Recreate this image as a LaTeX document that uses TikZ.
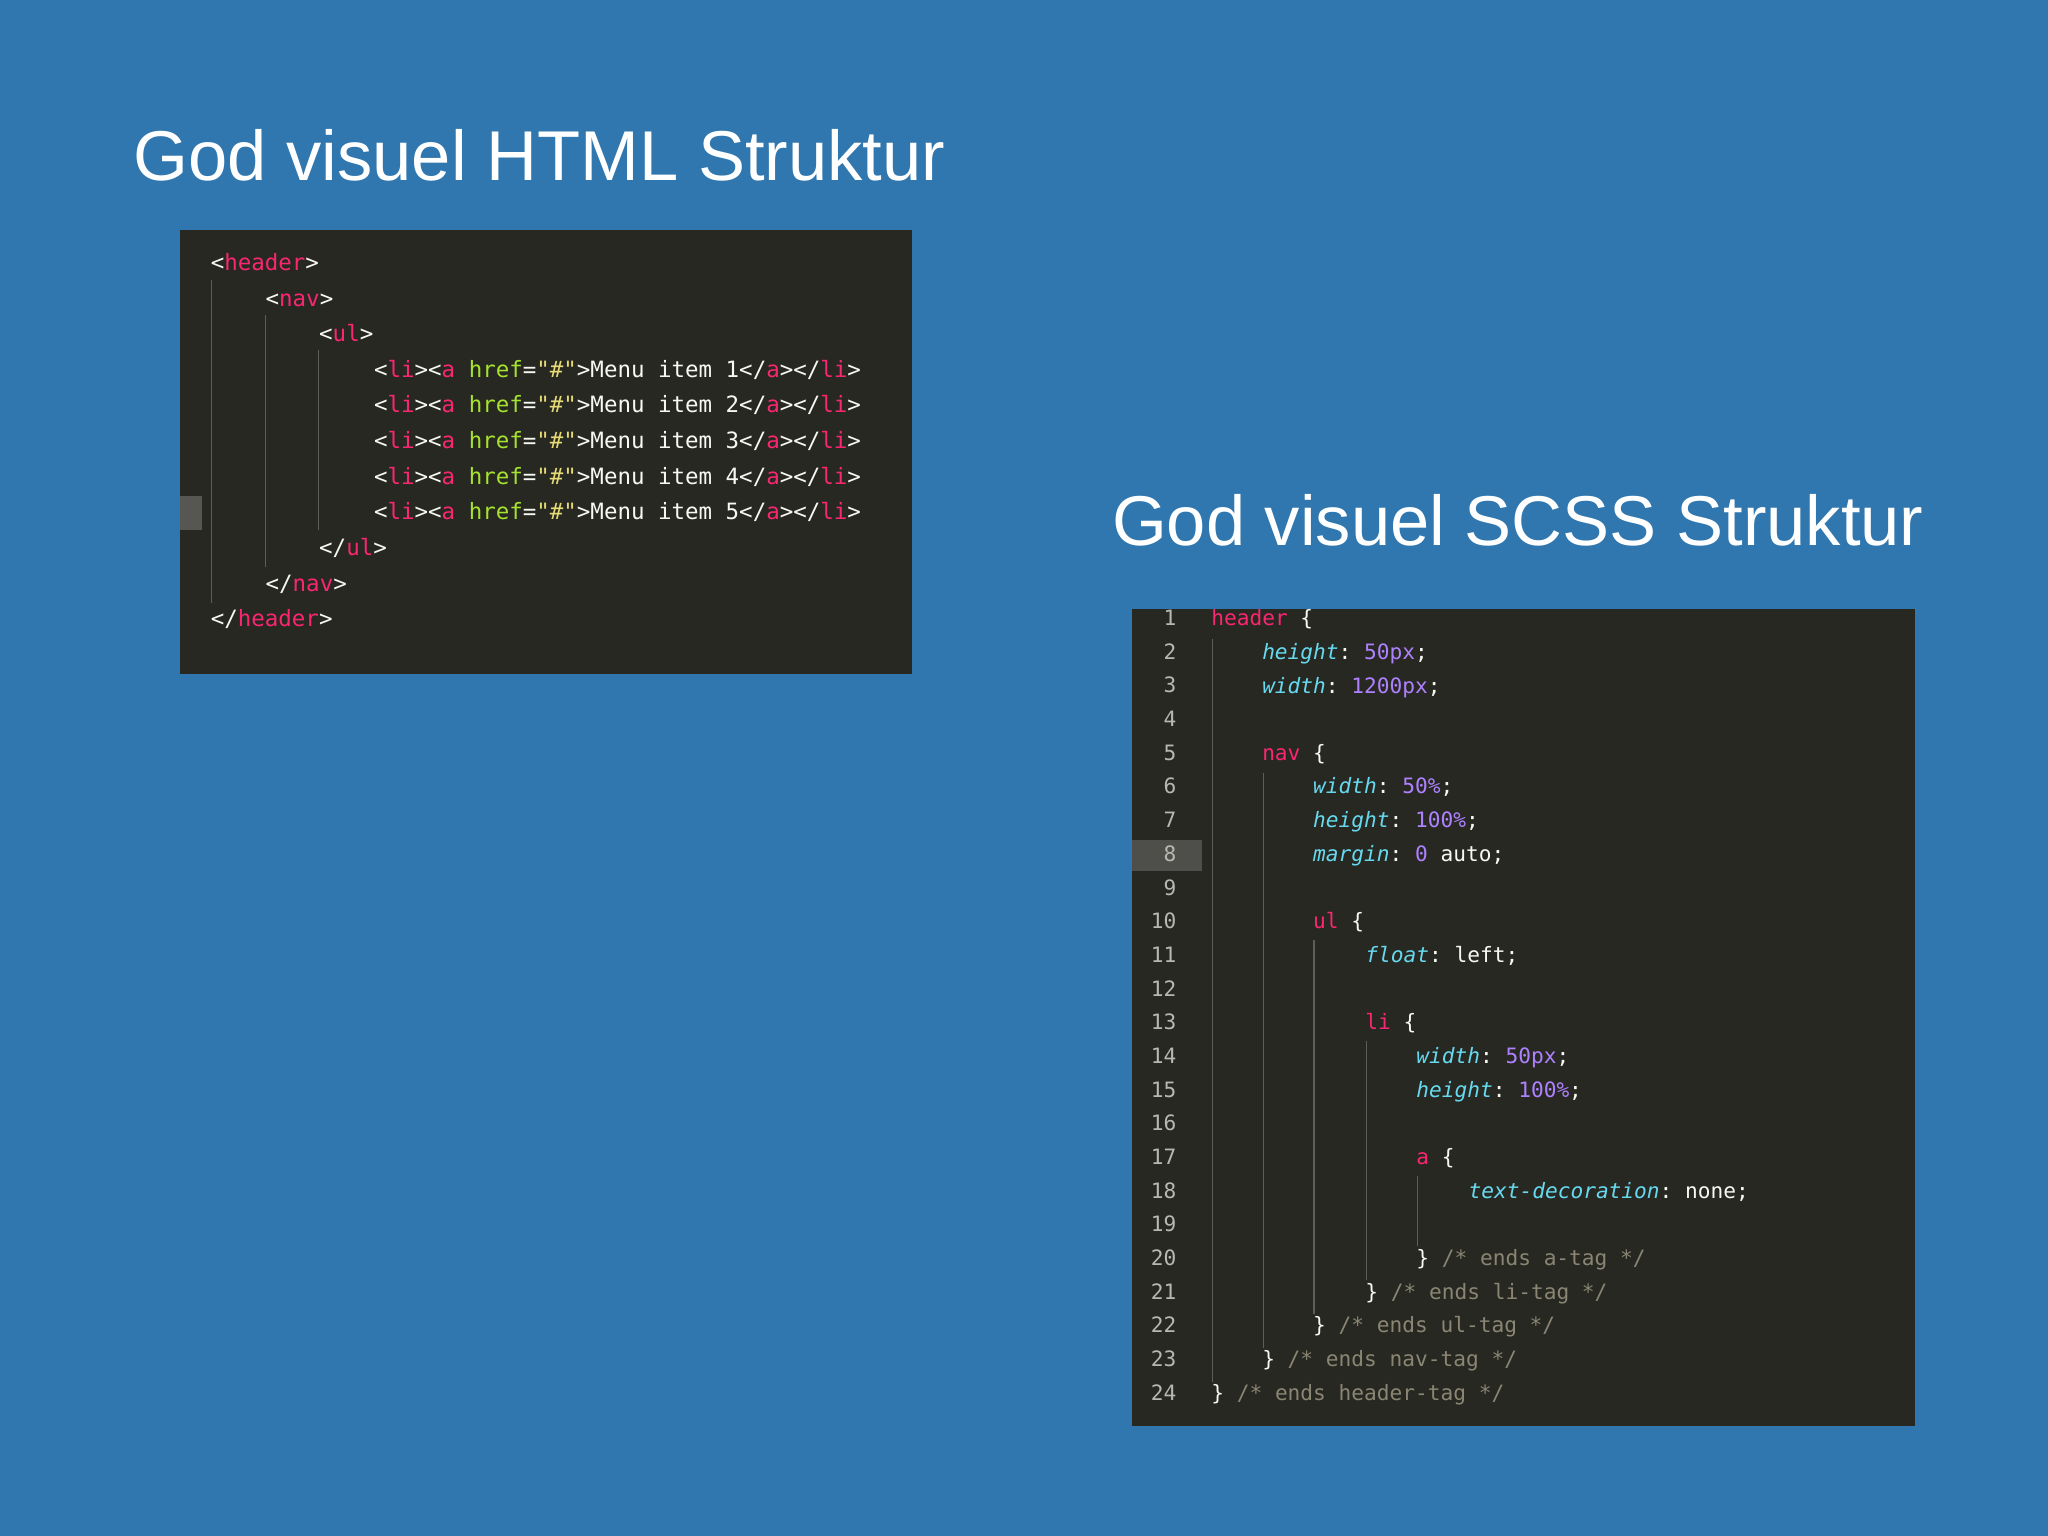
\documentclass[tikz,border=0pt]{standalone}
\usepackage{fontspec}
\setmainfont{Liberation Sans}
\setmonofont{DejaVu Sans Mono}
\definecolor{bg}{HTML}{2F77AE}
\definecolor{panel}{HTML}{272822}
\definecolor{cw}{HTML}{F8F8F2}
\definecolor{cpink}{HTML}{F92672}
\definecolor{cgreen}{HTML}{A6E22E}
\definecolor{cyel}{HTML}{E6DB74}
\definecolor{cpur}{HTML}{AE81FF}
\definecolor{ccyan}{HTML}{66D9EF}
\definecolor{ccom}{HTML}{8A8673}
\definecolor{cnum}{HTML}{B8B8B0}
\newcommand{\tg}[1]{\textcolor{cpink}{#1}}
\newcommand{\atr}[1]{\textcolor{cgreen}{#1}}
\newcommand{\strg}[1]{\textcolor{cyel}{#1}}
\newcommand{\nm}[1]{\textcolor{cpur}{#1}}
\newcommand{\prp}[1]{\textcolor{ccyan}{\itshape #1}}
\newcommand{\cmt}[1]{\textcolor{ccom}{#1}}
\newcommand{\li}[1]{<\tg{li}><\tg{a} \atr{href}=\strg{"\#"}>Menu item #1</\tg{a}></\tg{li}>}
\tikzset{
 title/.style={anchor=base west,inner sep=0,text=white,font=\fontsize{27}{30}\selectfont},
 hcode/.style={anchor=base west,inner sep=0,text=cw,font=\ttfamily\fontsize{8.6}{10}\selectfont},
 scode/.style={anchor=base west,inner sep=0,text=cw,font=\ttfamily\fontsize{8.1}{10}\selectfont},
 lnum/.style={anchor=base east,inner sep=0,text=cnum,font=\ttfamily\fontsize{8.1}{10}\selectfont},
 guide/.style={draw=white!25!panel,line width=0.4pt}
}
\begin{document}
\begin{tikzpicture}[x=0.5pt,y=-0.5pt]
\fill[bg] (0,0) rectangle (1568,1176);
\node[title] (t1) at (102,138) {God visuel HTML Struktur};
\node[title] (t2) at (851,418) {God visuel SCSS Struktur};
% HTML panel
\fill[panel] (138,176) rectangle (698,516);
\fill[white!22!panel] (138,380) rectangle (155,406);
\draw[guide] (162,214) -- (162,462);
\draw[guide] (203,241) -- (203,434);
\draw[guide] (244,268) -- (244,406);
\node[hcode] (h0) at (161,207) {<\tg{header}>};
\node[hcode] (h1) at (203,234.3) {<\tg{nav}>};
\node[hcode] (h2) at (244,261.6) {<\tg{ul}>};
\node[hcode] (h3) at (286,288.9) {\li{1}};
\node[hcode] (h4) at (286,316.2) {\li{2}};
\node[hcode] (h5) at (286,343.5) {\li{3}};
\node[hcode] (h6) at (286,370.8) {\li{4}};
\node[hcode] (h7) at (286,398.1) {\li{5}};
\node[hcode] (h8) at (244,425.4) {</\tg{ul}>};
\node[hcode] (h9) at (203,452.7) {</\tg{nav}>};
\node[hcode] (h10) at (161,480) {</\tg{header}>};
% SCSS panel
\fill[panel] (867,466) rectangle (1466,1092);
\fill[white!18!panel] (867,643) rectangle (920,667);
\foreach \n in {1,...,24}{
 \node[lnum] (n\n) at (901,{479+(\n-1)*25.78}) {\n};
}
\draw[guide] (928,489) -- (928,1058);
\draw[guide] (967,592) -- (967,1032);
\draw[guide] (1006,720) -- (1006,1006);
\draw[guide] (1046,797) -- (1046,980);
\draw[guide] (1085,900) -- (1085,954);
\node[scode] (s1) at (927,479) {\tg{header} \{};
\node[scode] (s2) at (966,504.8) {\prp{height}: \nm{50px};};
\node[scode] (s3) at (966,530.6) {\prp{width}: \nm{1200px};};
\node[scode] (s5) at (966,582.1) {\tg{nav} \{};
\node[scode] (s6) at (1005,607.9) {\prp{width}: \nm{50\%};};
\node[scode] (s7) at (1005,633.7) {\prp{height}: \nm{100\%};};
\node[scode] (s8) at (1005,659.5) {\prp{margin}: \nm{0} auto;};
\node[scode] (s10) at (1005,711) {\tg{ul} \{};
\node[scode] (s11) at (1045,736.8) {\prp{float}: left;};
\node[scode] (s13) at (1045,788.4) {\tg{li} \{};
\node[scode] (s14) at (1084,814.1) {\prp{width}: \nm{50px};};
\node[scode] (s15) at (1084,839.9) {\prp{height}: \nm{100\%};};
\node[scode] (s17) at (1084,891.5) {\tg{a} \{};
\node[scode] (s18) at (1124,917.3) {\prp{text-decoration}: none;};
\node[scode] (s20) at (1084,968.8) {\} \cmt{/* ends a-tag */}};
\node[scode] (s21) at (1045,994.6) {\} \cmt{/* ends li-tag */}};
\node[scode] (s22) at (1005,1020.4) {\} \cmt{/* ends ul-tag */}};
\node[scode] (s23) at (966,1046.2) {\} \cmt{/* ends nav-tag */}};
\node[scode] (s24) at (927,1072) {\} \cmt{/* ends header-tag */}};
\end{tikzpicture}
\end{document}
